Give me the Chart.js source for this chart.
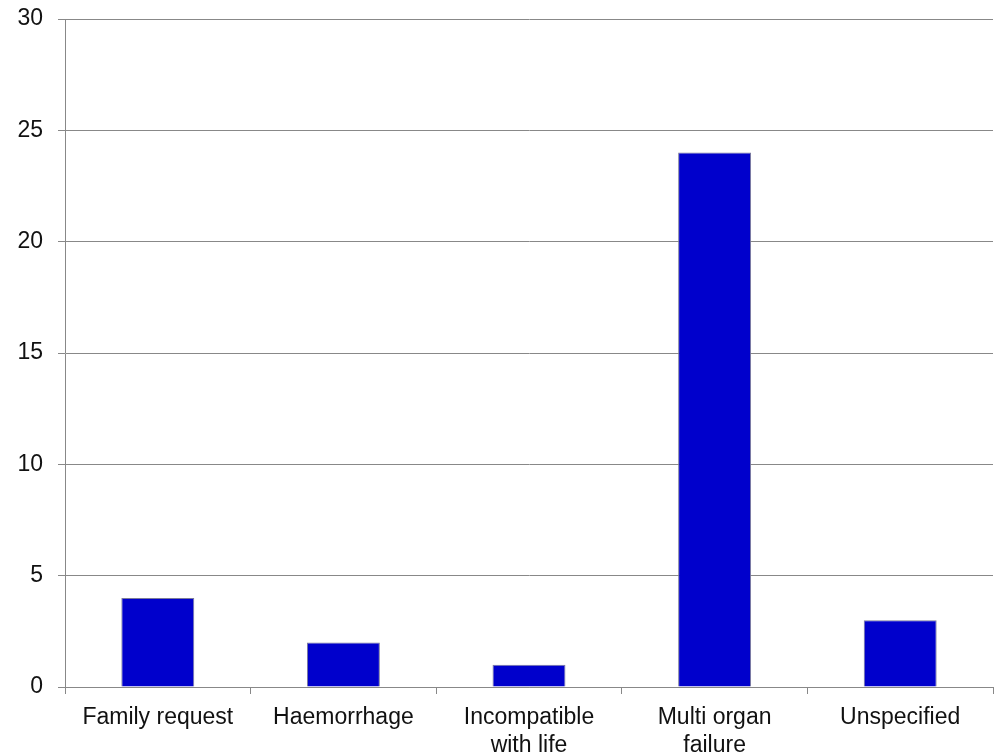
<!DOCTYPE html>
<html>
<head>
<meta charset="utf-8">
<script src="https://cdn.jsdelivr.net/npm/chart.js@4/dist/chart.umd.min.js"></script>
<style>
html,body{margin:0;padding:0;background:#fff;}
#wrap{width:997px;height:754px;position:relative;}
</style>
</head>
<body>
<div id="wrap"><canvas id="c" width="997" height="754"></canvas></div>
<script>
const categories = [["Family request"], ["Haemorrhage"], ["Incompatible", "with life"], ["Multi organ", "failure"], ["Unspecified"]];
const values = [4, 2, 1, 24, 3];
const yTicks = [0, 5, 10, 15, 20, 25, 30];

const ctx = document.getElementById('c');
new Chart(ctx, {
  type: 'bar',
  data: {
    labels: categories,
    datasets: [{
      data: values,
      backgroundColor: '#0000CC',
      borderColor: '#7a7a9a',
      borderWidth: 1,
      categoryPercentage: 1,
      barPercentage: 0.393
    }]
  },
  options: {
    responsive: false,
    animation: false,
    devicePixelRatio: 1,
    layout: { padding: { top: 19, right: 4, left: 0, bottom: 0 } },
    plugins: { legend: { display: false }, tooltip: { enabled: false } },
    scales: {
      x: {
        grid: { display: true, drawOnChartArea: false, drawTicks: true, tickLength: 7, color: '#888', offset: true },
        border: { display: true, color: '#888', width: 1 },
        ticks: { color: '#111', font: { family: 'Liberation Sans, Arial', size: 23, lineHeight: 1.2 }, padding: 10, maxRotation: 0, autoSkip: false },
        afterFit: (s) => { s.height = 67; s.paddingLeft = 0; s.paddingRight = 0; }
      },
      y: {
        min: 0, max: 30,
        afterBuildTicks: (s) => { s.ticks = yTicks.map(v => ({ value: v })); },
        grid: { color: '#888', tickLength: 7, drawTicks: true },
        border: { display: true, color: '#888', width: 1 },
        ticks: { color: '#111', font: { family: 'Liberation Sans, Arial', size: 23 }, padding: 15 },
        afterFit: (s) => { s.width = 65; s.paddingTop = 0; s.paddingBottom = 0; }
      }
    }
  }
});
</script>
</body>
</html>
